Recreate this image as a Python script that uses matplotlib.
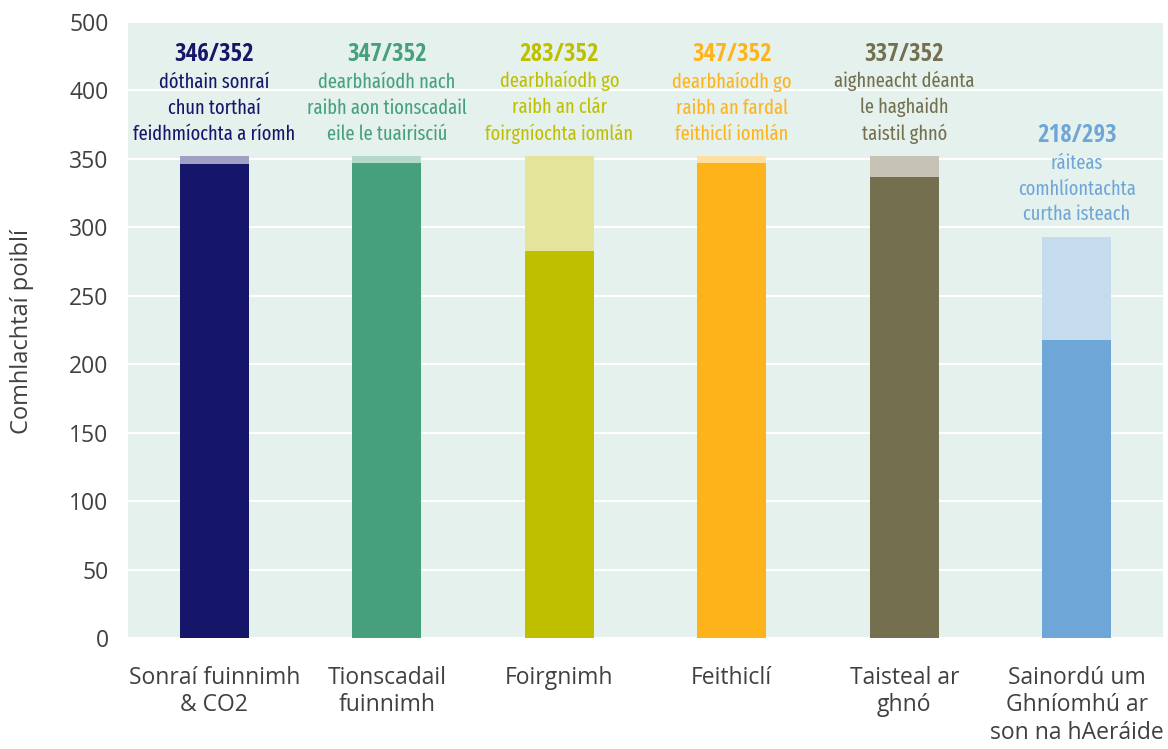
import matplotlib
matplotlib.use("Agg")
import matplotlib.pyplot as plt
from matplotlib import font_manager as fm
from matplotlib.textpath import TextPath
from matplotlib.font_manager import FontProperties

categories = ["Sonraí fuinnimh\n& CO2", "Tionscadail\nfuinnimh", "Foirgnimh",
              "Feithiclí", "Taisteal ar\nghnó", "Sainordú um\nGhníomhú ar\nson na hAeráide"]
values = [346, 347, 283, 347, 337, 218]
totals = [352, 352, 352, 352, 352, 293]
descriptions = [
    "dóthain sonraí\nchun torthaí\nfeidhmíochta a ríomh",
    "dearbhaíodh nach\nraibh aon tionscadail\neile le tuairisciú",
    "dearbhaíodh go\nraibh an clár\nfoirgníochta iomlán",
    "dearbhaíodh go\nraibh an fardal\nfeithiclí iomlán",
    "aighneacht déanta\nle haghaidh\ntaistil ghnó",
    "ráiteas\ncomhlíontachta\ncurtha isteach",
]
dark_colors = ["#15166a", "#46a07c", "#bfbf00", "#ffb31b", "#736f4f", "#6fa6d8"]
light_colors = ["#a09fc4", "#b5d9cb", "#e5e49b", "#ffe0a0", "#c6c3b6", "#c5dcef"]
ytick_values = [0, 50, 100, 150, 200, 250, 300, 350, 400, 450]
ytick_labels = ["0", "50", "100", "150", "200", "250", "300", "350", "400", "500"]
ylabel = "Comhlachtaí poiblí"

# font selection
entries = fm.fontManager.ttflist
names = {f.name for f in entries}
main_font = "Open Sans" if "Open Sans" in names else "DejaVu Sans"


def has_weight(name, w):
    return any(f.name == name and f.weight == w and f.style == "normal" for f in entries)


cond_regular = None
for cand in ["Fira Sans Extra Condensed", "Fira Sans Condensed", "Encode Sans Condensed",
             "Barlow Semi Condensed", "Asap Condensed"]:
    if has_weight(cand, 400):
        cond_regular = cand
        break
if cond_regular is None:
    cond_regular = "DejaVu Sans"

cond_bold = None
for cand in ["Open Sans Condensed", "Fira Sans Condensed", "Encode Sans Condensed"]:
    if has_weight(cand, 700):
        cond_bold = cand
        break
if cond_bold is None:
    cond_bold = cond_regular

# size the description font so its widest line matches the reference width (~160 px)
probe = TextPath((0, 0), "feidhmíochta a ríomh", size=100,
                 prop=FontProperties(family=cond_regular, weight="normal"))
probe_w = probe.get_extents().width
desc_size = 160 / (probe_w / 100 * 100 / 72)
desc_size = max(12.5, min(16.5, desc_size))
desc_linespacing = 1.25 * (26 / 23.5) * (14.5 / desc_size) * 1.0

plt.rcParams["font.family"] = [main_font, "DejaVu Sans"]

fig = plt.figure(figsize=(11.68, 7.49), dpi=100)
ax = fig.add_axes([128 / 1168, 1 - 638 / 749, (1163 - 128) / 1168, (638 - 22) / 749])
ax.set_facecolor("#e4f1ec")

x = list(range(len(categories)))
ax.bar(x, totals, width=0.4, color=light_colors, zorder=3)
ax.bar(x, values, width=0.4, color=dark_colors, zorder=4)

ax.set_xlim(-0.5, len(categories) - 0.5)
ax.set_ylim(0, 450)
ax.set_yticks(ytick_values)
ax.set_yticklabels(ytick_labels)
ax.set_xticks(x)
ax.set_xticklabels(categories, linespacing=1.2)
ax.tick_params(axis="both", length=0, colors="#404040", labelsize=16.5)
ax.tick_params(axis="x", pad=20)
ax.tick_params(axis="y", pad=14)
ax.grid(axis="y", color="white", linewidth=1.5, zorder=1)
ax.set_axisbelow(True)
for s in ax.spines.values():
    s.set_visible(False)

for i, (v, t, d) in enumerate(zip(values, totals, descriptions)):
    ax.annotate(d, xy=(i, t), xytext=(0, 9), textcoords="offset points",
                ha="center", va="bottom", fontsize=desc_size, color=dark_colors[i],
                family=[cond_regular, "DejaVu Sans"], fontweight="normal",
                linespacing=desc_linespacing, zorder=5)
    ax.annotate(f"{v}/{t}", xy=(i, t), xytext=(0, 73), textcoords="offset points",
                ha="center", va="center", fontsize=18, fontweight="bold",
                color=dark_colors[i], family=[cond_bold, "DejaVu Sans"], zorder=5)

fig.text(22 / 1168, 1 - 332 / 749, ylabel, rotation=90, ha="center", va="center",
         fontsize=17, color="#404040")

fig.savefig("out.png", dpi=100)
